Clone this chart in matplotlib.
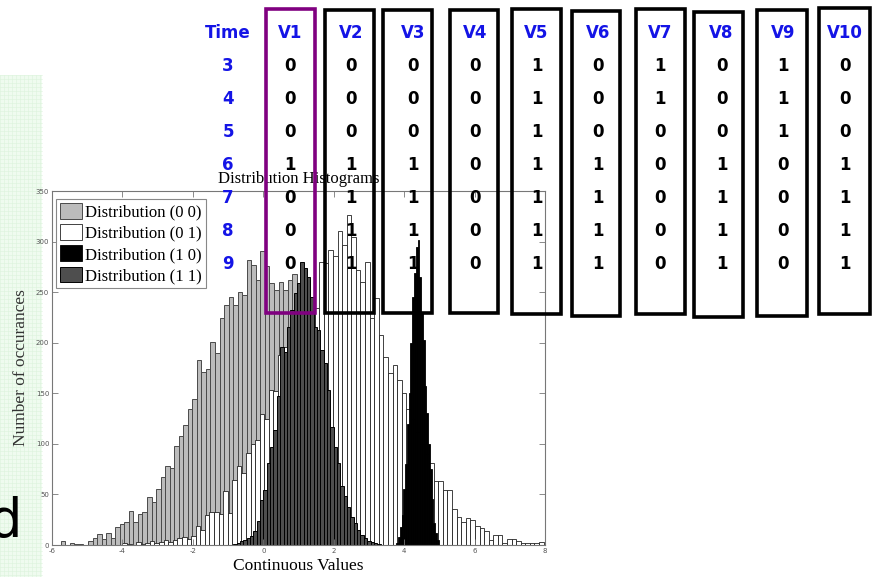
import numpy as np
import matplotlib
matplotlib.use("Agg")
from matplotlib import pyplot as plt
from matplotlib.patches import Rectangle

plt.rcParams["axes.unicode_minus"] = False

# histogram counts
start00, width00 = -5.75, 0.1288
dist00 = [4, 0, 2, 1, 1, 0, 4, 7, 11, 6, 12, 7, 18, 21, 23, 34, 23, 31, 33, 47,
          43, 55, 67, 78, 76, 98, 108, 119, 134, 144, 183, 171, 174, 201, 190, 224,
          237, 245, 237, 250, 247, 282, 277, 262, 291, 276, 259, 252, 260, 252, 262,
          268, 258, 250, 262, 240, 230, 215, 200, 185, 170, 150, 135, 118, 100, 85,
          70, 57, 45, 35, 26, 20, 14, 10, 7, 5, 3, 2, 1, 1]

start01, width01 = -4.0, 0.13
dist01 = [2, 1, 0, 3, 1, 2, 4, 2, 3, 5, 3, 5, 7, 8, 6, 9, 19, 15, 30, 33,
          33, 31, 53, 32, 64, 78, 71, 91, 100, 104, 130, 125, 153, 152, 188, 196,
          194, 205, 215, 222, 228, 235, 234, 280, 279, 292, 286, 310, 297, 326,
          305, 272, 260, 280, 224, 244, 208, 186, 170, 178, 163, 150, 134, 125,
          112, 100, 90, 81, 63, 63, 54, 54, 36, 28, 23, 27, 25, 19, 17, 14, 5,
          10, 10, 2, 6, 6, 4, 2, 2, 2, 2, 3]

start10, width10 = 3.78, 0.05
dist10 = [2, 8, 18, 30, 55, 80, 120, 150, 200, 245, 269, 295, 302, 265, 229,
          203, 157, 131, 100, 75, 45, 22, 12, 5]

start11, width11 = -0.85, 0.095
dist11 = [1, 2, 4, 5, 7, 9, 14, 24, 44, 54, 81, 97, 114, 147, 196, 191, 216,
          232, 249, 259, 280, 274, 265, 245, 216, 213, 193, 180, 153, 117, 97, 81,
          58, 48, 38, 28, 22, 15, 10, 7, 4, 3, 2, 1]

# the table pasted over the chart
headers = ["Time", "V1", "V2", "V3", "V4", "V5", "V6", "V7", "V8", "V9", "V10"]
times = [3, 4, 5, 6, 7, 8, 9]
V1 = [0, 0, 0, 1, 0, 0, 0]
V2 = [0, 0, 0, 1, 1, 1, 1]
V3 = [0, 0, 0, 1, 1, 1, 1]
V4 = [0, 0, 0, 0, 0, 0, 0]
V5 = [1, 1, 1, 1, 1, 1, 1]
V6 = [0, 0, 0, 1, 1, 1, 1]
V7 = [1, 1, 0, 0, 0, 0, 0]
V8 = [0, 0, 0, 1, 1, 1, 1]
V9 = [1, 1, 1, 0, 0, 0, 0]
V10 = [0, 0, 0, 1, 1, 1, 1]
columns = [times, V1, V2, V3, V4, V5, V6, V7, V8, V9, V10]

# box layout (pixels): left, right, top, bottom
box_left = [266, 325, 383, 450, 512, 572, 636, 694, 757, 819]
box_right = [315, 374, 432, 498, 561, 620, 685, 743, 807, 870]
box_top = [9, 10, 10, 10, 9, 11, 9, 12, 10, 8]
box_bot = [313, 313, 313, 313, 314, 316, 314, 317, 316, 314]

W, H = 872, 577
fig = plt.figure(figsize=(W / 100, H / 100), dpi=100)

# light green strip on the left
bg = fig.add_axes([0, 0, 1, 1], zorder=0)
bg.set_xlim(0, W)
bg.set_ylim(H, 0)
bg.axis("off")
bg.add_patch(Rectangle((0, 75), 42, H - 75, facecolor="#effbef", edgecolor="none"))
for gx in np.arange(0, 42, 4):
    bg.plot([gx, gx], [75, H], color="#dcf3dc", lw=0.4)
for gy in np.arange(75, H, 4):
    bg.plot([0, 42], [gy, gy], color="#dcf3dc", lw=0.4)
bg.text(21, 537, "d", fontsize=38, ha="right", va="baseline", color="black",
        family="DejaVu Sans")

serif = "Liberation Serif"
ax = fig.add_axes([52 / W, 1 - 545 / H, 493 / W, 354 / H], zorder=1)

def edges(start, width, n):
    return start + width * np.arange(n)

ax.bar(edges(start00, width00, len(dist00)), dist00, width=width00, align="edge",
       facecolor="#bcbcbc", edgecolor="#4a4a4a", linewidth=0.7, label="Distribution (0 0)")
ax.bar(edges(start01, width01, len(dist01)), dist01, width=width01, align="edge",
       facecolor="white", edgecolor="#222222", linewidth=0.6, label="Distribution (0 1)")
ax.bar(edges(start10, width10, len(dist10)), dist10, width=width10, align="edge",
       facecolor="black", edgecolor="black", linewidth=0.6, label="Distribution (1 0)")
ax.bar(edges(start11, width11, len(dist11)), dist11, width=width11, align="edge",
       facecolor="#4e4e4e", edgecolor="black", linewidth=0.7, label="Distribution (1 1)")

ax.set_xlim(-6, 8)
ax.set_ylim(0, 350)
ax.set_xticks(range(-6, 9, 2))
ax.set_yticks(range(0, 351, 50))
ax.tick_params(direction="in", top=True, right=True, length=4, width=0.6,
               labelsize=5, colors="#777777", labelcolor="#555555", pad=2)
for s in ax.spines.values():
    s.set_color("#777777")
    s.set_linewidth(0.8)

ax.set_title("Distribution Histograms", fontsize=12, family=serif, pad=6)
ax.set_xlabel("Continuous Values", fontsize=12.5, family=serif, labelpad=3)
ax.set_ylabel("Number of occurances", fontsize=12.5, family=serif, color="#333333", labelpad=5)

leg = ax.legend(loc="upper left", bbox_to_anchor=(0.008, 0.977), borderaxespad=0,
                prop={"family": serif, "size": 12}, fancybox=False, framealpha=1,
                handlelength=1.3, handleheight=1.05, labelspacing=0.22,
                handletextpad=0.2, borderpad=0.25)
leg.get_frame().set_edgecolor("#888888")
leg.get_frame().set_linewidth(0.8)

# table overlay
ov = fig.add_axes([0, 0, 1, 1], zorder=2)
ov.set_xlim(0, W)
ov.set_ylim(H, 0)
ov.axis("off")
ov.patch.set_alpha(0)

col_x0, col_dx = 228, 61.7
row_y0, row_dy = 33, 33
blue = "#1414e6"
for i, name in enumerate(headers):
    cx = col_x0 + col_dx * i
    ov.text(cx, row_y0, name, ha="center", va="center", fontsize=12,
            fontweight="bold", color=blue, family="DejaVu Sans")
    for j, v in enumerate(columns[i]):
        ov.text(cx, row_y0 + row_dy * (j + 1), str(v), ha="center", va="center",
                fontsize=12, fontweight="bold", color=blue if i == 0 else "black",
                family="DejaVu Sans")

for k in range(len(box_left)):
    ov.add_patch(Rectangle((box_left[k], box_top[k]), box_right[k] - box_left[k],
                           box_bot[k] - box_top[k], fill=False,
                           edgecolor="#800080" if k == 0 else "black", linewidth=2.6))

fig.savefig("out.png", dpi=100)
